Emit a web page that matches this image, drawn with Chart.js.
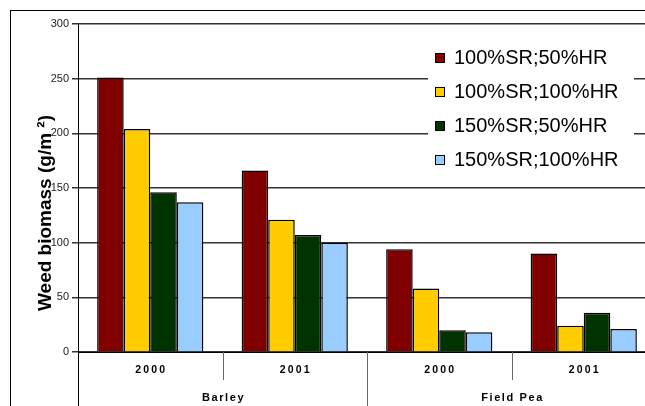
<!DOCTYPE html>
<html>
<head>
<meta charset="utf-8">
<script src="https://cdn.jsdelivr.net/npm/chart.js@4.4.0/dist/chart.umd.min.js"></script>
<style>
  html, body { margin: 0; padding: 0; background: #fff; overflow: hidden; }
  #wrap { position: relative; width: 645px; height: 406px; overflow: hidden; }
  #frame { position: absolute; left: 10px; top: 10px; width: 800px; height: 600px; border: 1px solid #000; }
  #myChart { position: absolute; left: 0; top: 0; }
</style>
</head>
<body>
<div id="wrap">
  <div id="frame"></div>
  <canvas id="myChart" width="660" height="406"></canvas>
</div>
<script>
var years = ["2000", "2001", "2000", "2001"];
var crops = ["Barley", "Field Pea"];
var seriesNames = ["100%SR;50%HR", "100%SR;100%HR", "150%SR;50%HR", "150%SR;100%HR"];
var seriesColors = ["#800000", "#FFCC00", "#003300", "#99CCFF"];

var sr100hr50 = [251, 166, 94, 90];
var sr100hr100 = [204, 121, 58, 24];
var sr150hr50 = [146, 107, 20, 36];
var sr150hr100 = [137, 100, 18, 21];

var yMax = 300;
var yStep = 50;
var yTitle = "Weed biomass (g/m \u00B2)";

// axis labels, separators, frame line and legend box
const decorPlugin = {
  id: "decor",
  afterDraw(chart) {
    const ctx = chart.ctx;
    const area = chart.chartArea;
    const x = chart.scales.x;
    const y = chart.scales.y;
    const H = chart.height;
    ctx.save();

    // left line goes down through the category boxes
    ctx.strokeStyle = "#000";
    ctx.lineWidth = 1;
    ctx.beginPath();
    ctx.moveTo(Math.round(area.left) + 0.5, area.top);
    ctx.lineTo(Math.round(area.left) + 0.5, H);
    ctx.stroke();

    // separators between categories
    ctx.strokeStyle = "#666";
    for (let i = 0; i < years.length; i++) {
      let bx;
      if (i < years.length - 1) {
        bx = (x.getPixelForValue(i) + x.getPixelForValue(i + 1)) / 2;
      } else {
        bx = area.right;
      }
      const groupEnd = (i % 2 === 1);
      ctx.beginPath();
      ctx.moveTo(Math.round(bx) + 0.5, area.bottom);
      ctx.lineTo(Math.round(bx) + 0.5, groupEnd ? H : area.bottom + 28);
      ctx.stroke();
    }

    // year labels
    ctx.fillStyle = "#000";
    ctx.textAlign = "center";
    ctx.textBaseline = "middle";
    ctx.font = "bold 10.5px Arial, 'Liberation Sans'";
    ctx.letterSpacing = "2.2px";
    years.forEach((lab, i) => {
      ctx.fillText(lab, x.getPixelForValue(i) + 1, area.bottom + 18);
    });

    // crop group labels
    ctx.font = "bold 11px Arial, 'Liberation Sans'";
    ctx.letterSpacing = "1.6px";
    crops.forEach((lab, g) => {
      const cx = (x.getPixelForValue(g * 2) + x.getPixelForValue(g * 2 + 1)) / 2;
      ctx.fillText(lab, cx + 1, area.bottom + 46);
    });
    ctx.letterSpacing = "0px";

    // y title
    ctx.save();
    ctx.translate(46, 213);
    ctx.rotate(-Math.PI / 2);
    ctx.font = "bold 19px Arial, 'Liberation Sans'";
    ctx.fillText(yTitle, 0, 0);
    ctx.restore();

    // legend
    const top = y.getPixelForValue(300) + 2;
    const bottom = y.getPixelForValue(150) - 2;
    ctx.fillStyle = "#fff";
    ctx.fillRect(428, top, 206, bottom - top);
    const rows = [58, 92, 126, 160];
    ctx.textAlign = "left";
    ctx.font = "20px Arial, 'Liberation Sans'";
    seriesNames.forEach((name, i) => {
      ctx.fillStyle = seriesColors[i];
      ctx.fillRect(435.5, rows[i] - 4, 9, 9);
      ctx.strokeStyle = "#000";
      ctx.lineWidth = 1;
      ctx.strokeRect(435.5, rows[i] - 4.5, 9, 9);
      ctx.fillStyle = "#000";
      ctx.fillText(name, 454, rows[i]);
    });

    ctx.restore();
  }
};

const data = {
  labels: years,
  datasets: [
    { label: seriesNames[0], data: sr100hr50, backgroundColor: seriesColors[0] },
    { label: seriesNames[1], data: sr100hr100, backgroundColor: seriesColors[1] },
    { label: seriesNames[2], data: sr150hr50, backgroundColor: seriesColors[2] },
    { label: seriesNames[3], data: sr150hr100, backgroundColor: seriesColors[3] },
  ].map((d) => Object.assign(d, {
    borderColor: "#000",
    borderWidth: 1.5,
    categoryPercentage: 0.735,
    barPercentage: 1.0,
  })),
};

const config = {
  type: "bar",
  data: data,
  options: {
    responsive: false,
    animation: false,
    layout: { padding: { top: 24, right: 4, left: 0, bottom: 0 } },
    plugins: {
      legend: { display: false },
      tooltip: { enabled: false },
    },
    scales: {
      x: {
        grid: { display: false },
        border: { display: true, color: "#000", width: 1 },
        ticks: { display: false },
        afterFit: (s) => { s.height = 54; },
      },
      y: {
        min: 0,
        max: yMax,
        ticks: {
          stepSize: yStep,
          color: "#222",
          padding: 3,
          font: { family: "Arial, 'Liberation Sans'", size: 11 },
        },
        grid: {
          color: "#333",
          lineWidth: 1.5,
          tickLength: 6,
          tickColor: "#333",
        },
        border: { display: false },
        afterFit: (s) => { s.width = 78; },
      },
    },
  },
  plugins: [decorPlugin],
};

const ctx = document.getElementById("myChart").getContext("2d");
new Chart(ctx, config);
</script>
</body>
</html>
